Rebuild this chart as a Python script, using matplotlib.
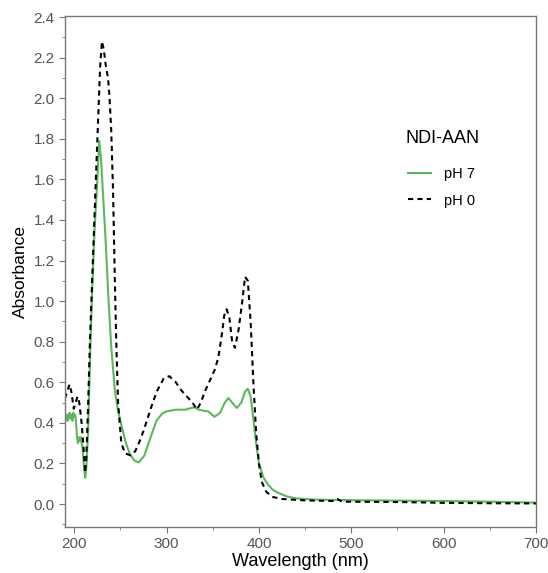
import matplotlib
matplotlib.use("Agg")
import matplotlib.pyplot as plt
from matplotlib.ticker import MultipleLocator, FormatStrFormatter

plt.rcParams['font.family'] = ['Liberation Sans', 'DejaVu Sans']

# pH 7 spectrum (nm, absorbance)
wl_ph7 = [190, 191, 192, 193, 194, 195, 196, 197, 198, 199, 200, 201, 202, 203, 204,
          205, 206, 207, 208, 209, 210, 211, 212, 213, 215, 217, 219, 222, 224.5, 227,
          229, 231.5, 234, 237, 240, 244, 247, 251, 256, 260, 265, 270, 276, 282, 289,
          295, 300, 310, 320, 330, 335, 340, 345, 352, 358, 363, 367, 371, 376, 381,
          385, 388, 391, 394, 397, 400, 405, 410, 415, 421, 430, 440, 460, 500, 550,
          600, 650, 700]
abs_ph7 = [0.40, 0.43, 0.44, 0.41, 0.43, 0.45, 0.42, 0.44, 0.41, 0.45, 0.43, 0.44, 0.40, 0.33, 0.30,
           0.33, 0.31, 0.33, 0.30, 0.28, 0.22, 0.16, 0.13, 0.17, 0.35, 0.70, 1.00, 1.35, 1.55, 1.79,
           1.70, 1.50, 1.30, 1.02, 0.78, 0.56, 0.47, 0.39, 0.30, 0.25, 0.215, 0.205, 0.24, 0.32, 0.41,
           0.445, 0.457, 0.465, 0.465, 0.477, 0.465, 0.46, 0.457, 0.43, 0.45, 0.50, 0.522, 0.50, 0.474, 0.50,
           0.555, 0.568, 0.53, 0.42, 0.30, 0.20, 0.13, 0.095, 0.07, 0.055, 0.038, 0.028, 0.022, 0.019, 0.017,
           0.015, 0.012, 0.007]

# pH 0 spectrum
wl_ph0 = [190, 192, 195, 197, 199.5, 201.5, 203.5, 205.5, 208, 210, 211.8, 213, 215, 217,
          219, 221, 223, 225.5, 228, 230, 232, 234.5, 236.6, 238, 240, 242, 244, 245.5,
          247.5, 251, 255, 261, 266, 270, 275, 280, 285, 290, 297, 303, 310, 316, 322,
          328, 333, 337, 342, 348, 352, 356, 360, 362.5, 365, 368, 371, 374, 378, 382,
          385, 388, 391, 394, 397, 400, 403, 408, 415, 425, 450, 480, 485, 490, 550,
          600, 650, 700]
abs_ph0 = [0.52, 0.55, 0.59, 0.55, 0.47, 0.50, 0.53, 0.50, 0.40, 0.28, 0.155, 0.22, 0.48, 0.80,
           1.05, 1.30, 1.55, 1.85, 2.15, 2.28, 2.24, 2.15, 2.10, 2.02, 1.85, 1.55, 1.10, 0.80,
           0.50, 0.30, 0.25, 0.24, 0.26, 0.30, 0.36, 0.43, 0.50, 0.56, 0.62, 0.63, 0.60, 0.56, 0.53,
           0.50, 0.466, 0.50, 0.56, 0.62, 0.66, 0.72, 0.84, 0.93, 0.96, 0.92, 0.80, 0.77, 0.86, 1.00,
           1.12, 1.10, 0.90, 0.60, 0.35, 0.20, 0.11, 0.06, 0.035, 0.025, 0.018, 0.015, 0.025, 0.012, 0.010,
           0.006, 0.004, 0.003]

fig = plt.figure(figsize=(5.48, 5.73), dpi=100)
ax = fig.add_axes([0.1186, 0.0803, 0.8594, 0.8917])

ax.plot(wl_ph7, abs_ph7, color='#5cb85c', lw=1.5, label='pH 7')
ax.plot(wl_ph0, abs_ph0, color='black', lw=1.5, ls=(0, (2.5, 2.0)), label='pH 0')

ax.set_xlim(190, 700)
ax.set_ylim(-0.113, 2.405)
ax.xaxis.set_major_locator(MultipleLocator(100))
ax.xaxis.set_minor_locator(MultipleLocator(50))
ax.yaxis.set_major_locator(MultipleLocator(0.2))
ax.yaxis.set_minor_locator(MultipleLocator(0.1))
ax.yaxis.set_major_formatter(FormatStrFormatter('%.1f'))

for s in ax.spines.values():
    s.set_color('#777777')
    s.set_linewidth(1.0)
ax.tick_params(which='both', direction='out', color='#777777', labelcolor='#555555',
               labelsize=11, top=False, right=False)
ax.tick_params(which='major', length=4)
ax.tick_params(which='minor', length=2.5)

ax.set_xlabel('Wavelength (nm)', fontsize=13, labelpad=1)
ax.set_ylabel('Absorbance', fontsize=12.5, labelpad=4)

ax.text(0.722, 0.761, 'NDI-AAN', transform=ax.transAxes, fontsize=13,
        va='center', ha='left')
leg = ax.legend(frameon=False, loc='upper left', bbox_to_anchor=(0.70, 0.73),
                fontsize=10.5, handlelength=1.6, labelspacing=0.85, handletextpad=0.9)

fig.savefig('out.png', dpi=100)
